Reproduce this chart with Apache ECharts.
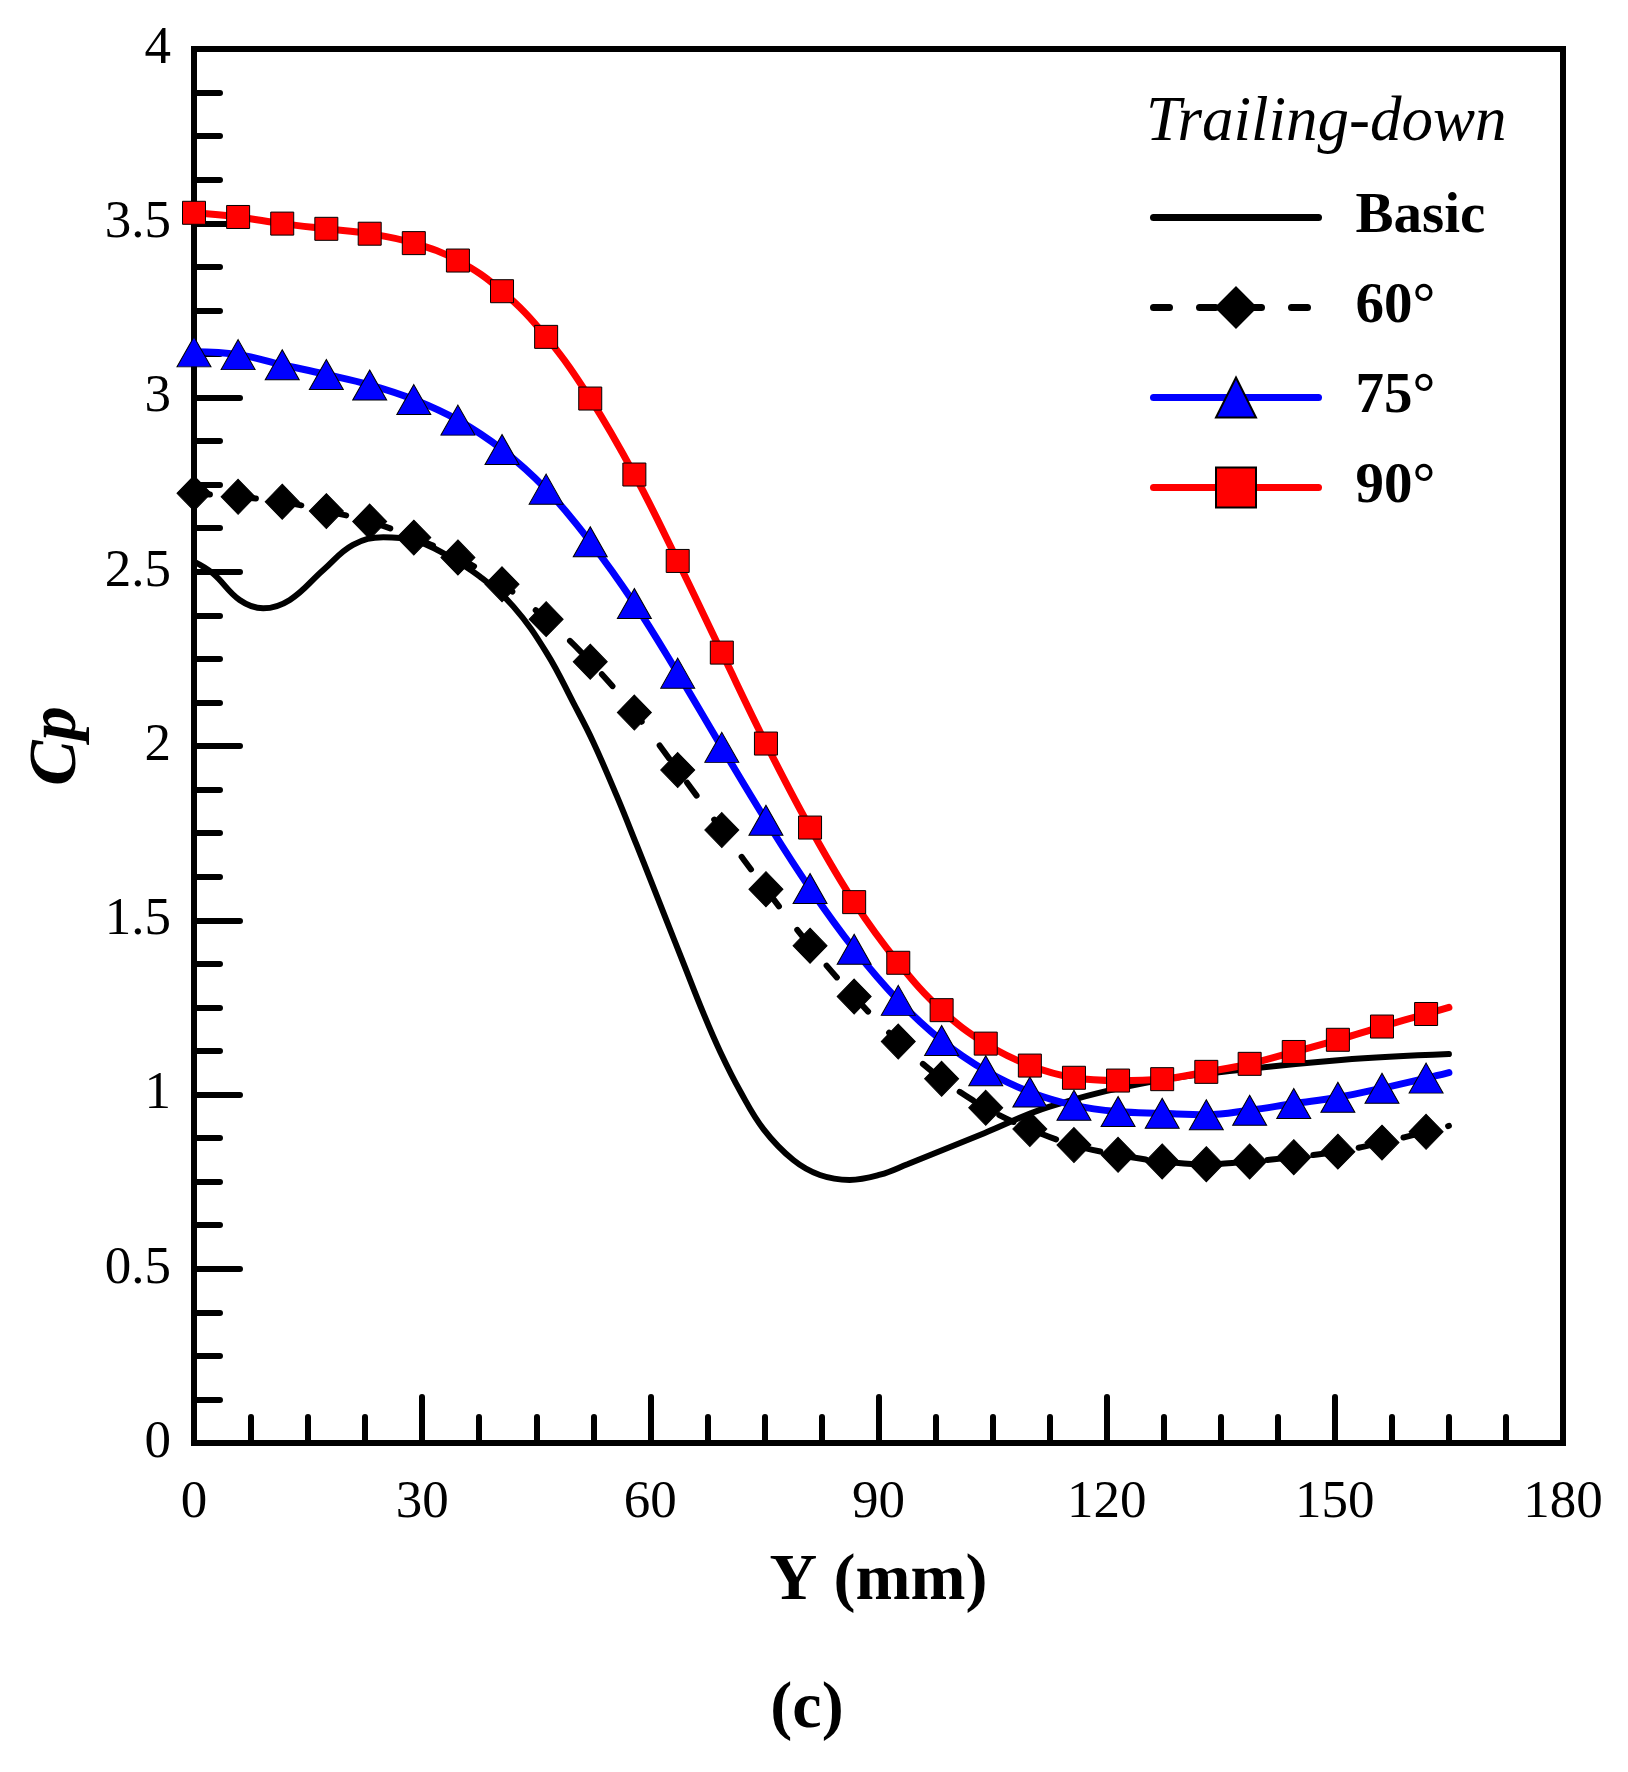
<!DOCTYPE html>
<html>
<head>
<meta charset="utf-8">
<script src="https://cdn.jsdelivr.net/npm/echarts@6/dist/echarts.min.js"></script>
<style>
  html, body { margin: 0; padding: 0; background: #fff; }
  #chart { width: 1628px; height: 1772px; }
</style>
</head>
<body>
<div id="chart"></div>
<script>
// tick labels
var xTicks = [0, 30, 60, 90, 120, 150, 180];
var yTicks = [0, 0.5, 1, 1.5, 2, 2.5, 3, 3.5, 4];

// Y (mm) positions of the marked series (last one is the line end, no marker)
var markerY = [0, 5.8, 11.6, 17.4, 23.1, 28.9, 34.7, 40.5, 46.3, 52.1,
  57.9, 63.6, 69.4, 75.2, 81.0, 86.8, 92.6, 98.3, 104.1, 109.9,
  115.7, 121.5, 127.3, 133.1, 138.8, 144.6, 150.4, 156.2, 162.0, 165];

var cp60 = [2.725, 2.715, 2.701, 2.674, 2.644, 2.598, 2.541, 2.464, 2.364, 2.242,
  2.096, 1.931, 1.759, 1.589, 1.427, 1.281, 1.152, 1.045, 0.962, 0.901,
  0.855, 0.827, 0.808, 0.800, 0.808, 0.820, 0.836, 0.862, 0.893, 0.910];
var cp75 = [3.131, 3.123, 3.094, 3.066, 3.036, 2.994, 2.935, 2.851, 2.737, 2.586,
  2.409, 2.209, 1.996, 1.787, 1.591, 1.417, 1.270, 1.155, 1.068, 1.007,
  0.969, 0.951, 0.946, 0.942, 0.955, 0.974, 0.992, 1.018, 1.047, 1.063];
var cp90 = [3.530, 3.518, 3.499, 3.484, 3.470, 3.443, 3.393, 3.305, 3.174, 2.997,
  2.779, 2.531, 2.268, 2.007, 1.766, 1.552, 1.378, 1.242, 1.146, 1.083,
  1.048, 1.040, 1.044, 1.065, 1.088, 1.122, 1.157, 1.195, 1.231, 1.250];

// basic case (line only)
var basicY = [0, 2.5, 6.0, 9.1, 12.6, 17.0, 20.9, 24.9, 28.8, 33.2,
  37.6, 42.0, 46.4, 49.9, 52.5, 55.6, 58.2, 60.0, 62.1, 64.3,
  67.0, 69.2, 71.8, 74.9, 78.8, 82.3, 86.2, 90.2, 93.8, 103.9,
  112.5, 125.3, 137.4, 150.8, 165];
var basicCp = [2.529, 2.495, 2.419, 2.395, 2.419, 2.505, 2.577, 2.599, 2.591, 2.548,
  2.486, 2.400, 2.266, 2.123, 2.011, 1.856, 1.716, 1.617, 1.501, 1.380,
  1.232, 1.122, 1.010, 0.900, 0.812, 0.769, 0.755, 0.770, 0.800, 0.889,
  0.965, 1.034, 1.070, 1.099, 1.116];

var FONT = '"Liberation Serif", "Times New Roman", serif';

function pairs(xs, ys, lastPlain) {
  return xs.map(function (x, i) {
    if (!lastPlain && i === xs.length - 1) return { value: [x, ys[i]], symbol: 'none' };
    return [x, ys[i]];
  });
}

var myChart = echarts.init(document.getElementById('chart'));

var option = {
  animation: false,
  backgroundColor: '#fff',
  title: [
    {
      text: 'Trailing-down',
      left: 1146, top: 92, padding: 0,
      textStyle: { fontFamily: FONT, fontStyle: 'italic', fontWeight: 'normal', fontSize: 63, lineHeight: 63, color: '#000' }
    },
    {
      text: '(c)',
      left: 807, top: 1677, padding: 0, textAlign: 'center',
      textStyle: { fontFamily: FONT, fontWeight: 'bold', fontSize: 66, lineHeight: 66, color: '#000' }
    }
  ],
  legend: {
    left: 1150, top: 189, padding: 0,
    orient: 'vertical',
    itemWidth: 165, itemHeight: 50, itemGap: 33,
    lineStyle: { width: 7 },
    textStyle: { fontFamily: FONT, fontWeight: 'bold', fontSize: 57, lineHeight: 57, color: '#000', padding: [0, 0, 0, 32] },
    data: [
      { name: 'Basic', itemStyle: { opacity: 0 } },
      { name: '60°' },
      { name: '75°' },
      { name: '90°' }
    ]
  },
  grid: {
    left: 194, right: 65, top: 49, bottom: 329,
    show: true, borderColor: '#000', borderWidth: 6,
    outerBoundsMode: 'none'
  },
  xAxis: {
    type: 'value',
    min: xTicks[0], max: xTicks[xTicks.length - 1], interval: xTicks[1] - xTicks[0],
    name: 'Y (mm)', nameLocation: 'middle', nameGap: 106,
    nameTextStyle: { fontFamily: FONT, fontWeight: 'bold', fontSize: 66, lineHeight: 66, color: '#000' },
    axisLine: { show: true, lineStyle: { color: '#000', width: 6 } },
    axisTick: { show: true, inside: true, length: 46, lineStyle: { color: '#000', width: 6, cap: 'round' } },
    minorTick: { show: true, splitNumber: 4, length: 26, lineStyle: { color: '#000', width: 6, cap: 'round' } },
    splitLine: { show: false },
    axisLabel: { margin: 34, fontFamily: FONT, fontSize: 53, lineHeight: 53, color: '#000' }
  },
  yAxis: {
    type: 'value',
    min: yTicks[0], max: yTicks[yTicks.length - 1], interval: yTicks[1] - yTicks[0],
    name: 'Cp', nameLocation: 'middle', nameGap: 103,
    nameTextStyle: { fontFamily: FONT, fontStyle: 'italic', fontWeight: 'bold', fontSize: 68, lineHeight: 68, color: '#000' },
    axisLine: { show: true, lineStyle: { color: '#000', width: 6 } },
    axisTick: { show: true, inside: true, length: 46, lineStyle: { color: '#000', width: 6, cap: 'round' } },
    minorTick: { show: true, splitNumber: 4, length: 26, lineStyle: { color: '#000', width: 6, cap: 'round' } },
    splitLine: { show: false },
    axisLabel: { margin: 23, fontFamily: FONT, fontSize: 53, lineHeight: 53, color: '#000' }
  },
  series: [
    {
      name: 'Basic', type: 'line', smooth: 0.4,
      symbol: 'none',
      lineStyle: { color: '#000', width: 6, cap: 'round' },
      itemStyle: { color: '#000' },
      data: pairs(basicY, basicCp, true)
    },
    {
      name: '60°', type: 'line', smooth: 0.4,
      symbol: 'diamond', symbolSize: [34, 35], showAllSymbol: true,
      lineStyle: { color: '#000', width: 6, type: [16, 30], cap: 'round' },
      itemStyle: { color: '#000', borderColor: '#000', borderWidth: 1 },
      data: pairs(markerY, cp60)
    },
    {
      name: '75°', type: 'line', smooth: 0.4,
      symbol: 'triangle', symbolSize: [34, 30], showAllSymbol: true,
      lineStyle: { color: '#0000ff', width: 7, cap: 'round' },
      itemStyle: { color: '#0000ff', borderColor: '#000', borderWidth: 1 },
      data: pairs(markerY, cp75)
    },
    {
      name: '90°', type: 'line', smooth: 0.4,
      symbol: 'rect', symbolSize: 23, showAllSymbol: true,
      lineStyle: { color: '#ff0000', width: 7, cap: 'round' },
      itemStyle: { color: '#ff0000', borderColor: '#000', borderWidth: 1 },
      data: pairs(markerY, cp90)
    }
  ]
};

myChart.setOption(option);
</script>
</body>
</html>
